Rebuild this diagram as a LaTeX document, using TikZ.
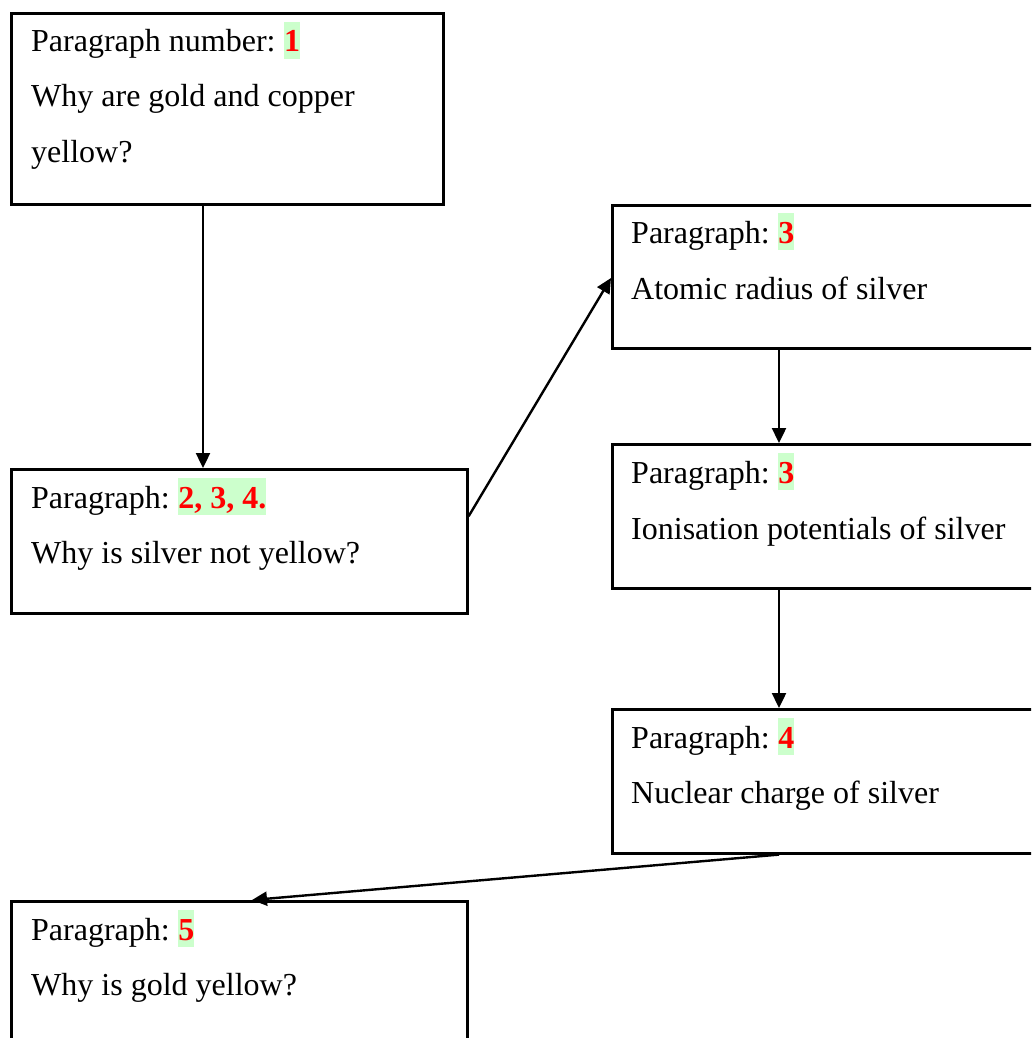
\documentclass[tikz,border=0pt]{standalone}
\usepackage{fontspec}
\setmainfont{Liberation Serif}
\usetikzlibrary{arrows.meta}
\definecolor{hlgreen}{HTML}{CCFFCC}
\newcommand{\hlnum}[1]{{\setlength{\fboxsep}{0pt}\colorbox{hlgreen}{\rule[-7pt]{0pt}{37pt}\textcolor{red}{\textbf{#1}}}}}
\tikzset{
  box/.style={draw, line width=2.6pt, rectangle, anchor=north west, inner sep=0pt},
  txt/.style={anchor=base west, inner sep=0pt, font=\fontsize{32}{38}\selectfont},
  conn/.style={line width=2.4pt, -{Triangle[length=15pt,width=14pt]}}
}
\begin{document}
\begin{tikzpicture}[x=1pt,y=-1pt]
\useasboundingbox (0,0) rectangle (1031,1038);
\clip (0,0) rectangle (1031,1038);
\fill[white] (0,0) rectangle (1031,1038);
% boxes
\node[box, minimum width=432pt, minimum height=191pt] (b1) at (10,12) {};
\node[box, minimum width=456pt, minimum height=144pt] (b2) at (10,468) {};
\node[box, minimum width=440pt, minimum height=143pt] (b3) at (611,204) {};
\node[box, minimum width=440pt, minimum height=144pt] (b4) at (611,443) {};
\node[box, minimum width=440pt, minimum height=144pt] (b5) at (611,708) {};
\node[box, minimum width=456pt, minimum height=160pt] (b6) at (10,900) {};
% texts
\node[txt] (t1a) at (31,52) {Paragraph number:\hspace{-2pt} \hlnum{1}};
\node[txt] (t1b) at (31,107) {Why are gold and copper};
\node[txt] (t1c) at (31,162) {yellow?};
\node[txt] (t2a) at (31,508) {Paragraph:\hspace{-2pt} \hlnum{2, 3, 4.}};
\node[txt] (t2b) at (31,563) {Why is silver not yellow?};
\node[txt] (t3a) at (631,243) {Paragraph:\hspace{-2pt} \hlnum{3}};
\node[txt] (t3b) at (631,299) {Atomic radius of silver};
\node[txt] (t4a) at (631,483) {Paragraph:\hspace{-2pt} \hlnum{3}};
\node[txt] (t4b) at (631,539) {Ionisation potentials of silver};
\node[txt] (t5a) at (631,748) {Paragraph:\hspace{-2pt} \hlnum{4}};
\node[txt] (t5b) at (631,803) {Nuclear charge of silver};
\node[txt] (t6a) at (31,940) {Paragraph:\hspace{-2pt} \hlnum{5}};
\node[txt] (t6b) at (31,995) {Why is gold yellow?};
% connectors
\draw[conn] (b1.south west) ++(193,0) coordinate (a1s) -- (a1s |- b2.north);
\draw[conn] (b2.east) ++(0,-25) coordinate (a2s) -- ([yshift=-74pt]b3.north west);
\draw[conn] (b3.south west) ++(168,0) coordinate (a3s) -- (a3s |- b4.north);
\draw[conn] (b4.south west) ++(168,0) coordinate (a4s) -- (a4s |- b5.north);
\draw[conn] (b5.south west) ++(168,0) coordinate (a5s) -- ([xshift=242pt]b6.north west);
\end{tikzpicture}
\end{document}
